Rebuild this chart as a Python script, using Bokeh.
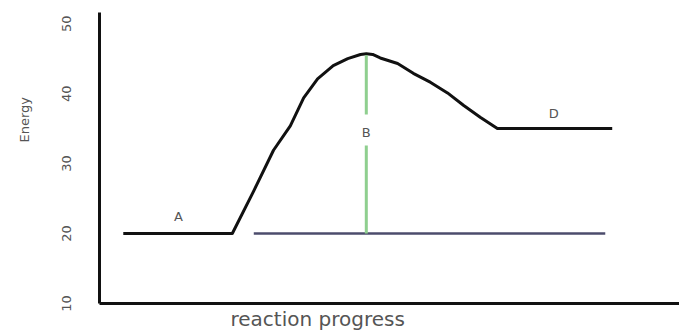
import math
from bokeh.plotting import figure
from bokeh.models import Range1d, FixedTicker, Label, Title
from bokeh.embed import file_html
from bokeh.resources import INLINE

# data (x = reaction progress, arbitrary units 0-100; y = energy)
curve_x = [4.1, 22.9, 26.6, 30.0, 32.9, 35.2, 37.6, 40.3, 42.8, 45.0, 46.0, 47.1, 48.4,
           51.4, 54.1, 57.1, 60.0, 62.8, 65.7, 68.6, 88.4]
curve_y = [20.0, 20.0, 26.1, 31.9, 35.4, 39.4, 42.1, 44.0, 45.0, 45.6, 45.7, 45.6, 45.1,
           44.3, 42.9, 41.6, 40.1, 38.3, 36.6, 35.0, 35.0]
base_x = [26.6, 87.2]
base_y = [20.0, 20.0]
barrier_x = 46.0
barrier_low = [20.0, 37.0]
barrier_high = [32.6, 45.5]
labels = ["A", "B", "D"]
label_x = [13.6, 46.0, 78.3]
label_y = [22.4, 34.4, 37.1]
y_ticks = [10, 20, 30, 40, 50]
x_title = "reaction progress"
y_title = "Energy"

p = figure(width=679, height=335, output_backend="svg", toolbar_location=None,
           x_range=Range1d(0, 100), y_range=Range1d(9.99, 51.6),
           min_border_left=99, min_border_right=0, min_border_top=12, min_border_bottom=32)
p.outline_line_color = None
p.xgrid.visible = False
p.ygrid.visible = False
p.background_fill_color = "white"
p.border_fill_color = "white"

p.line(curve_x, curve_y, line_color="#111111", line_width=3, line_join="round")
p.line(base_x, base_y, line_color="#4c4c6c", line_width=2.5)
for lo, hi in zip(barrier_low, barrier_high):
    p.line([barrier_x, barrier_x], [lo, hi], line_color="#8fcf8f", line_width=3)

for t, x, y in zip(labels, label_x, label_y):
    p.add_layout(Label(x=x, y=y, text=t, text_align="center", text_baseline="middle",
                       text_font_size="13px", text_color="#555555", text_font="DejaVu Sans"))

p.yaxis.ticker = FixedTicker(ticks=y_ticks)
p.yaxis.major_label_orientation = "vertical"
p.yaxis.major_label_standoff = 22
p.yaxis.major_label_text_font_size = "13px"
p.yaxis.major_label_text_font = "DejaVu Sans"
p.yaxis.major_label_text_color = "#555555"
p.yaxis.major_tick_line_color = None
p.yaxis.minor_tick_line_color = None
p.yaxis.axis_line_width = 3
p.yaxis.axis_line_color = "#111111"
# blank axis label used only as a spacer between tick labels and the title
p.yaxis.axis_label = " "
p.yaxis.axis_label_standoff = 0
p.yaxis.axis_label_text_font_size = "12px"

p.xaxis.ticker = FixedTicker(ticks=[])
p.xaxis.major_tick_line_color = None
p.xaxis.minor_tick_line_color = None
p.xaxis.axis_line_width = 3
p.xaxis.axis_line_color = "#111111"

# axis titles, offset from the frame centre as in the reference
p.add_layout(Title(text=x_title, align="left", offset=131, standoff=2,
                   text_font_size="20px", text_font="DejaVu Sans", text_font_style="normal",
                   text_color="#555555"), "below")
p.add_layout(Title(text=y_title, align="left", offset=161, standoff=22,
                   text_font_size="13px", text_font="DejaVu Sans", text_font_style="normal",
                   text_color="#555555"), "left")

open("out.html", "w").write(file_html(p, INLINE))
